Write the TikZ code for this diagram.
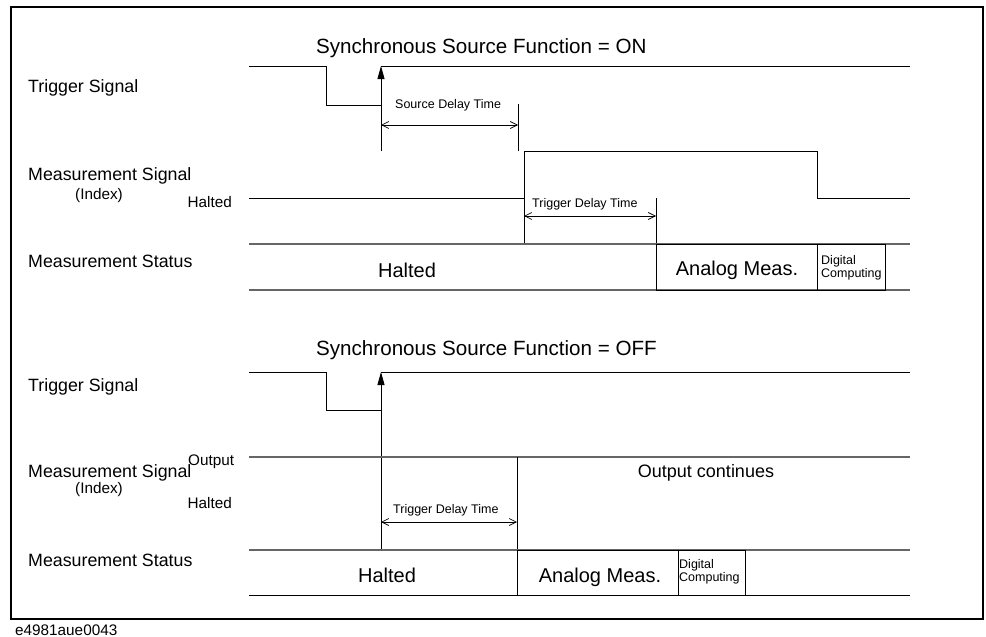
\documentclass[tikz,border=0pt]{standalone}
\usepackage{fontspec}
\setmainfont{Liberation Sans}
\usetikzlibrary{arrows.meta}

\tikzset{
  sig/.style={line width=0.8pt},
  statline/.style={line width=1.1pt, black!60},
  statbox/.style={line width=0.9pt},
  dimline/.style={line width=0.7pt, {Straight Barb[length=7pt,width=7pt]}-{Straight Barb[length=7pt,width=7pt]}},
  trigedge/.style={line width=0.8pt, -{Triangle[length=13pt,width=7pt]}},
  biglabel/.style={inner sep=0pt, anchor=base west, font=\fontsize{17.8}{20}\selectfont},
  midlabel/.style={inner sep=0pt, font=\fontsize{15.3}{17}\selectfont},
  smalllabel/.style={inner sep=0pt, anchor=base west, font=\fontsize{12.5}{13}\selectfont},
  title/.style={inner sep=0pt, anchor=base west, font=\fontsize{20.6}{24}\selectfont},
  state/.style={inner sep=0pt, anchor=base, font=\fontsize{20}{24}\selectfont}
}

\begin{document}
\begin{tikzpicture}[x=1pt, y=-1pt]
    \useasboundingbox (0,0) rectangle (986,637);
    % Cornice
    \draw[line width=2pt] (11,7) rectangle (983,619);
    \node[midlabel, anchor=base west] (code) at (15,635) {e4981aue0043};

    % ---- Sincrono = ON ----
    \node[title] (titleon) at (316,53) {Synchronous Source Function = ON};
    \node[biglabel] (trigon) at (28,92) {Trigger Signal};
    \node[biglabel] (meason) at (28,180) {Measurement Signal};
    \node[midlabel, anchor=base] (idxon) at (99,199) {(Index)};
    \node[midlabel, anchor=base east] (haltlvlon) at (232,207) {Halted};
    \node[biglabel] (staton) at (28,267) {Measurement Status};

    % Segnale di trigger
    \draw[sig] (249,66) -- (326,66) -- (326,105) -- (381,105);
    \draw[sig] (381,66) -- (910,66);
    \draw[trigedge] (381,151) -- (381,66);
    % Source delay
    \draw[sig] (518,104) -- (518,151);
    \draw[dimline] (381,125) -- (518,125);
    \node[smalllabel] (sdt) at (395,108) {Source Delay Time};
    % Segnale di misura
    \draw[sig] (249,198) -- (524,198) -- (524,151) -- (817,151) -- (817,198) -- (910,198);
    \draw[sig] (524,198) -- (524,244);
    % Trigger delay
    \draw[sig] (656,198) -- (656,244);
    \draw[dimline] (524,216) -- (656,216);
    \node[smalllabel] (tdton) at (532,207) {Trigger Delay Time};
    % Stato
    \draw[statline] (249,244) -- (910,244);
    \draw[statline] (249,290) -- (910,290);
    \draw[statbox] (656,244) rectangle (817,290);
    \draw[statbox] (817,244) rectangle (885,290);
    \node[state] (haltON) at (407,277) {Halted};
    \node[state] (anaON) at (737,275) {Analog Meas.};
    \node[smalllabel, align=left] (digON) at (821,277) {Digital\\Computing};

    % ---- Sincrono = OFF ----
    \node[title] (titleoff) at (316,355) {Synchronous Source Function = OFF};
    \node[biglabel] (trigoff) at (28,391) {Trigger Signal};
    \node[biglabel] (measoff) at (28,477) {Measurement Signal};
    \node[midlabel, anchor=base] (idxoff) at (99,493) {(Index)};
    \node[midlabel, anchor=base west] (outlvl) at (188,465) {Output};
    \node[midlabel, anchor=base east] (haltlvloff) at (232,508) {Halted};
    \node[biglabel] (statoff) at (28,566) {Measurement Status};

    % Segnale di trigger
    \draw[sig] (249,372) -- (326,372) -- (326,410) -- (381,410);
    \draw[sig] (381,372) -- (910,372);
    \draw[trigedge] (381,550) -- (381,372);
    % Segnale di misura
    \draw[statline] (249,457) -- (910,457);
    \draw[sig] (517,457) -- (517,550);
    \node[state, font=\fontsize{18}{20}\selectfont] (outcont) at (706,477) {Output continues};
    % Trigger delay
    \draw[dimline] (381,522) -- (517,522);
    \node[smalllabel] (tdtoff) at (393,513) {Trigger Delay Time};
    % Stato
    \draw[statline] (249,550) -- (910,550);
    \draw[sig] (249,595) -- (910,595);
    \draw[statbox] (517,550) rectangle (678,595);
    \draw[statbox] (678,550) rectangle (745,595);
    \node[state] (haltOFF) at (387,582) {Halted};
    \node[state] (anaOFF) at (600,582) {Analog Meas.};
    \node[smalllabel, align=left] (digOFF) at (679,581) {Digital\\Computing};
\end{tikzpicture}
\end{document}
